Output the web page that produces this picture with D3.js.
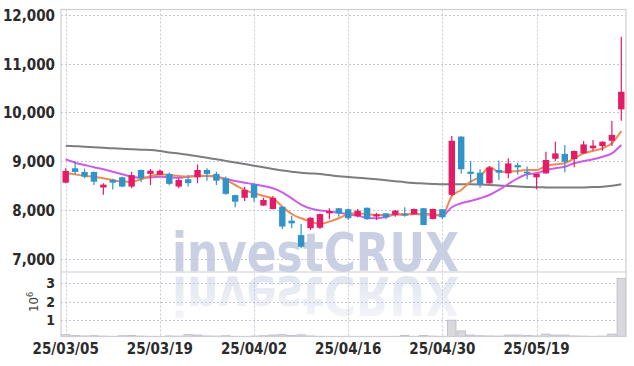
<!DOCTYPE html>
<html><head><meta charset="utf-8">
<script src="https://cdn.jsdelivr.net/npm/d3@7"></script>
<style>html,body{margin:0;padding:0;background:#fff;}svg{display:block;}</style>
</head><body>
<svg id="c" width="634" height="366"></svg>
<script>
const dates = ["25/03/05","25/03/06","25/03/07","25/03/10","25/03/11","25/03/12","25/03/13","25/03/14","25/03/17","25/03/18","25/03/19","25/03/20","25/03/21","25/03/24","25/03/25","25/03/26","25/03/27","25/03/28","25/03/31","25/04/01","25/04/02","25/04/03","25/04/04","25/04/07","25/04/08","25/04/09","25/04/10","25/04/11","25/04/14","25/04/15","25/04/16","25/04/17","25/04/18","25/04/21","25/04/22","25/04/23","25/04/24","25/04/25","25/04/28","25/04/29","25/04/30","25/05/02","25/05/07","25/05/08","25/05/09","25/05/12","25/05/13","25/05/14","25/05/15","25/05/16","25/05/19","25/05/20","25/05/21","25/05/22","25/05/23","25/05/26","25/05/27","25/05/28","25/05/29","25/05/30"];
const openP  = [8560,8855,8780,8780,8460,8615,8670,8480,8820,8740,8720,8740,8480,8630,8670,8820,8740,8650,8305,8250,8525,8090,8020,8065,7780,7485,7625,7635,7930,8035,8015,7875,8045,7865,7930,7900,7915,7910,8035,7815,8015,8310,9505,8785,8765,8545,8820,8750,8920,8785,8670,8750,9050,9150,9045,9160,9265,9310,9420,10065];
const highP  = [8855,9005,8850,8790,8550,8640,8680,8785,8830,8840,8830,8770,8640,8715,8935,8855,8785,8685,8310,8475,8545,8250,8285,8075,7880,7710,7850,7925,8035,8040,8030,8020,8050,7945,7935,8000,8055,8030,8040,8030,8020,9515,9510,9005,8835,8900,9010,9060,8970,8890,8745,9195,9400,9335,9220,9415,9435,9410,9825,11555];
const lowP   = [8550,8720,8650,8510,8310,8420,8465,8445,8570,8510,8710,8510,8445,8480,8550,8600,8510,8310,8055,8185,8170,8080,8015,7610,7625,7215,7590,7610,7810,7860,7795,7850,7800,7795,7810,7860,7860,7900,7690,7805,7815,8285,8750,8560,8455,8540,8615,8650,8730,8630,8425,8745,9005,8775,8875,9155,9215,9215,9310,9830];
const closeP = [8800,8780,8685,8580,8520,8560,8480,8715,8650,8805,8805,8535,8615,8550,8820,8740,8600,8330,8170,8410,8250,8205,8250,7660,7725,7245,7840,7915,7980,7930,7830,7985,7810,7910,7850,7985,7885,8020,7690,8020,7850,9420,8835,8740,8525,8870,8765,8955,8875,8750,8740,9025,9160,8990,9210,9345,9320,9400,9540,10425];
const ma5   = [8752,8730,8697,8683,8650,8615,8580,8580,8630,8697,8730,8717,8697,8683,8697,8704,8683,8615,8512,8410,8342,8286,8239,8067,7917,7829,7760,7712,7760,7829,7910,7931,7910,7897,7897,7910,7910,7917,7910,7910,7897,8286,8410,8580,8683,8875,8785,8785,8800,8820,8820,8900,8937,8957,9060,9162,9210,9265,9367,9620];
const ma20  = [9040,8970,8923,8875,8834,8785,8732,8683,8662,8670,8683,8670,8656,8683,8697,8697,8683,8635,8594,8560,8527,8492,8444,8362,8239,8110,8030,7990,7970,7944,7910,7880,7840,7829,7855,7905,7910,7915,7910,7900,7883,8055,8137,8184,8239,8307,8410,8533,8650,8732,8752,8820,8855,8888,8957,9005,9040,9093,9162,9333];
const ma120 = [9318,9308,9298,9286,9275,9265,9255,9245,9236,9230,9210,9180,9158,9132,9101,9070,9040,9007,8974,8942,8909,8875,8840,8808,8785,8762,8750,8738,8715,8693,8676,8660,8646,8629,8609,8590,8570,8555,8545,8535,8527,8527,8527,8527,8522,8512,8502,8492,8482,8473,8465,8463,8461,8459,8459,8463,8469,8477,8495,8527];
const volume = [0.22,0.17,0.15,0.16,0.14,0.13,0.16,0.18,0.14,0.13,0.12,0.15,0.14,0.22,0.2,0.15,0.14,0.16,0.13,0.12,0.14,0.16,0.2,0.22,0.18,0.21,0.15,0.13,0.12,0.12,0.13,0.12,0.12,0.12,0.12,0.13,0.18,0.13,0.18,0.14,0.13,1.0,0.42,0.2,0.16,0.15,0.14,0.2,0.2,0.18,0.15,0.25,0.2,0.2,0.15,0.14,0.13,0.14,0.25,3.26];
const dateTicks = ["25/03/05","25/03/19","25/04/02","25/04/16","25/04/30","25/05/19"];
const priceTicks = [7000,8000,9000,10000,11000,12000];
const volTicks = [1,2,3];

const svg = d3.select("#c");
const L=61, R=626, T=9.5, MB=272, VB=336.5;
const x = d3.scaleBand().domain(dates).range([L,R]);
const cx = d => x(d) + x.bandwidth()/2;
const y = d3.scaleLinear().domain([6727,12113]).range([MB,T]);
const yv = d3.scaleLinear().domain([0.12,3.6]).range([VB,MB]);
const UP="#e31c68", DOWN="#3193c8", GRID="#c4c8dc", BORDER="#cdced6";
const FONT="'Liberation Sans Narrow','DejaVu Sans Condensed',sans-serif";
const WMFONT="'DejaVu Sans','Liberation Sans',sans-serif";

const defs = svg.append("defs");
defs.append("clipPath").attr("id","mainClip").append("rect").attr("x",L).attr("y",T).attr("width",R-L).attr("height",MB-T);
defs.append("clipPath").attr("id","volClip").append("rect").attr("x",L).attr("y",MB).attr("width",R-L).attr("height",VB-MB);
const grad = defs.append("linearGradient").attr("id","fade").attr("x1",0).attr("y1",0).attr("x2",0).attr("y2",1);
grad.append("stop").attr("offset","0").attr("stop-color","#fff").attr("stop-opacity",1);
grad.append("stop").attr("offset","1").attr("stop-color","#fff").attr("stop-opacity",0.35);
defs.append("mask").attr("id","wmMask").attr("maskUnits","userSpaceOnUse")
  .append("rect").attr("x",0).attr("y",MB).attr("width",634).attr("height",50).attr("fill","url(#fade)");

// watermark
const wm = svg.append("g");
wm.append("text").attr("x",172).attr("y",MB-1).attr("font-family",WMFONT).attr("font-weight","bold")
  .attr("font-size",53).attr("textLength",287).attr("lengthAdjust","spacingAndGlyphs").attr("fill","#c9d0e4").text("investCRUX");
wm.append("g").attr("clip-path","url(#volClip)").append("g").attr("mask","url(#wmMask)")
  .append("text").attr("transform",`translate(0,${2*MB+4}) scale(1,-1)`).attr("x",172).attr("y",MB-1)
  .attr("font-family",WMFONT).attr("font-weight","bold")
  .attr("font-size",53).attr("textLength",287).attr("lengthAdjust","spacingAndGlyphs").attr("fill","#e0e4ef").text("investCRUX");

// grid
const grid = svg.append("g").attr("stroke",GRID).attr("stroke-dasharray","2,2").attr("stroke-width",1);
priceTicks.forEach(v=>grid.append("line").attr("x1",L).attr("x2",R).attr("y1",Math.round(y(v))+0.5).attr("y2",Math.round(y(v))+0.5));
volTicks.forEach(v=>grid.append("line").attr("x1",L).attr("x2",R).attr("y1",Math.round(yv(v))+0.5).attr("y2",Math.round(yv(v))+0.5));
dateTicks.forEach(d=>grid.append("line").attr("x1",Math.round(cx(d))+0.5).attr("x2",Math.round(cx(d))+0.5).attr("y1",T).attr("y2",VB));

// volume bars
svg.append("g").attr("clip-path","url(#volClip)").selectAll("rect").data(dates).join("rect")
  .attr("x",d=>x(d)+0.5).attr("width",x.bandwidth()-1)
  .attr("y",(d,i)=>yv(volume[i])).attr("height",(d,i)=>Math.max(0,VB+4-yv(volume[i])))
  .attr("fill","#d8d8de").attr("stroke","#b9b9c3").attr("stroke-width",0.8);

// MA lines
const main = svg.append("g").attr("clip-path","url(#mainClip)");
const lineGen = arr => d3.line().x((d,i)=>cx(dates[i])).y(d=>y(d)).curve(d3.curveMonotoneX)(arr);
main.append("path").attr("d",lineGen(ma120)).attr("fill","none").attr("stroke","#7d7d7d").attr("stroke-width",2);
main.append("path").attr("d",lineGen(ma20)).attr("fill","none").attr("stroke","#cf5ce8").attr("stroke-width",2);
main.append("path").attr("d",lineGen(ma5)).attr("fill","none").attr("stroke","#ef8b50").attr("stroke-width",2);

// candles
const bw = 6.4;
const cg = main.append("g");
dates.forEach((d,i)=>{
  const col = closeP[i] >= openP[i] ? UP : DOWN;
  const xc = cx(d);
  cg.append("line").attr("x1",xc).attr("x2",xc).attr("y1",y(highP[i])).attr("y2",y(lowP[i])).attr("stroke",col).attr("stroke-width",1.2);
  const top = y(Math.max(openP[i],closeP[i])), bot = y(Math.min(openP[i],closeP[i]));
  cg.append("rect").attr("x",xc-bw/2).attr("width",bw).attr("y",top).attr("height",Math.max(1.5,bot-top)).attr("fill",col);
});

// borders
const b = svg.append("g").attr("stroke",BORDER).attr("stroke-width",1.2).attr("fill","none");
b.append("rect").attr("x",L).attr("y",T).attr("width",R-L).attr("height",VB-T);
b.append("line").attr("x1",L).attr("x2",R).attr("y1",MB).attr("y2",MB);

// axes labels
const ax = svg.append("g").attr("font-family",FONT).attr("fill","#2b2b2b");
priceTicks.forEach(v=>ax.append("text").attr("x",55).attr("y",y(v)+6).attr("text-anchor","end").attr("font-size",15).attr("font-weight","bold").text(d3.format(",")(v)));
volTicks.forEach(v=>ax.append("text").attr("x",55).attr("y",yv(v)+5).attr("text-anchor","end").attr("font-size",14).attr("font-weight","bold").text(v));
dateTicks.forEach(d=>ax.append("text").attr("x",cx(d)).attr("y",354).attr("text-anchor","middle").attr("font-size",15).attr("font-weight","bold").text(d));
const vl = ax.append("text").attr("transform","translate(38,312) rotate(-90)").attr("font-size",13).attr("fill","#444");
vl.append("tspan").text("10");
vl.append("tspan").attr("dy",-5).attr("font-size",9).text("6");
</script>
</body></html>
